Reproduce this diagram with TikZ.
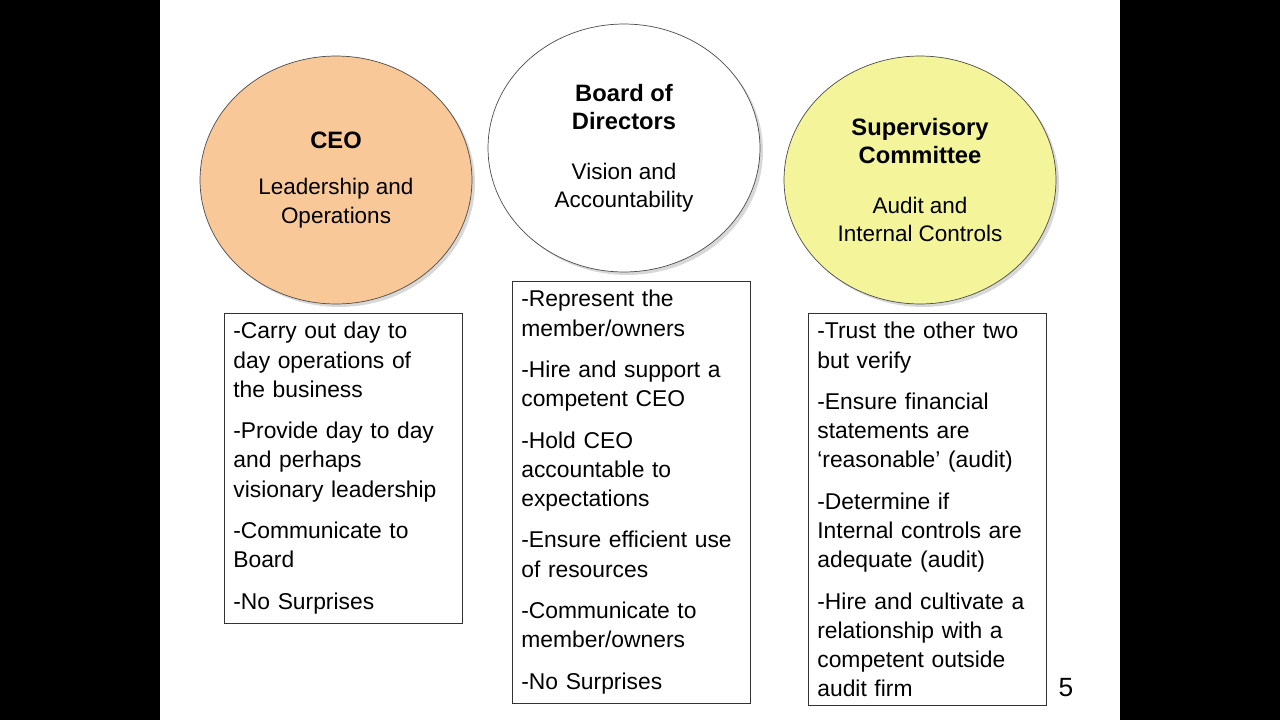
\documentclass[tikz,border=0pt]{standalone}
\usepackage{fontspec}
\setmainfont{Liberation Sans}
\usetikzlibrary{shapes.geometric, positioning, shadows}
\definecolor{ceofill}{HTML}{F8C898}
\definecolor{supfill}{HTML}{F4F49A}
\tikzset{
    role/.style={
        ellipse, minimum width=5.44cm, minimum height=4.96cm, draw=black!70, align=center,
        font=\fontsize{12.8}{16.2}\selectfont, drop shadow={shadow xshift=0.06cm, shadow yshift=-0.06cm, opacity=0.3}
    },
    duties/.style={
        rectangle, draw=black!80, text width=4.4cm, inner sep=0.18cm, align=left,
        font=\fontsize{13}{16.6}\selectfont, anchor=north west
    }
}
\newcommand{\gap}{\\[7pt]}
\newcommand{\rolehead}[1]{\textbf{\fontsize{13.5}{16}\selectfont #1}}
\begin{document}
\begin{tikzpicture}[x=0.02cm, y=-0.02cm]
        % Slide and black margins
        \fill[black] (0,0) rectangle (1280,720);
        \fill[white] (160,0) rectangle (1120,720);
        \useasboundingbox (0,0) rectangle (1280,720);

        % Circles
        \node (ceo) [role, fill=ceofill] at (336,180) {\rolehead{CEO}\\[10pt] Leadership and\\ Operations};
        \node (board) [role, fill=white] at (624,148) {\rolehead{Board of}\\ \rolehead{Directors}\\[12pt] Vision and\\ Accountability};
        \node (sup) [role, fill=supfill] at (920,180) {\rolehead{Supervisory}\\ \rolehead{Committee}\\[12pt] Audit and\\ Internal Controls};

        % Boxes
        \node (ceobox) [duties] at (224,313) {-Carry out day to\\ day operations of\\ the business\gap -Provide day to day\\ and perhaps\\ visionary leadership\gap -Communicate to\\ Board\gap -No Surprises};
        \node (boardbox) [duties] at (512,281) {-Represent the\\ member/owners\gap -Hire and support a\\ competent CEO\gap -Hold CEO\\ accountable to\\ expectations\gap -Ensure efficient use\\ of resources\gap -Communicate to\\ member/owners\gap -No Surprises};
        \node (supbox) [duties] at (808,313) {-Trust the other two\\ but verify\gap -Ensure financial\\ statements are\\ `reasonable' (audit)\gap -Determine if\\ Internal controls are\\ adequate (audit)\gap -Hire and cultivate a\\ relationship with a\\ competent outside\\ audit firm};

        % Page number
        \node (page) at (1066,688) {\fontsize{15}{18}\selectfont 5};
\end{tikzpicture}
\end{document}
